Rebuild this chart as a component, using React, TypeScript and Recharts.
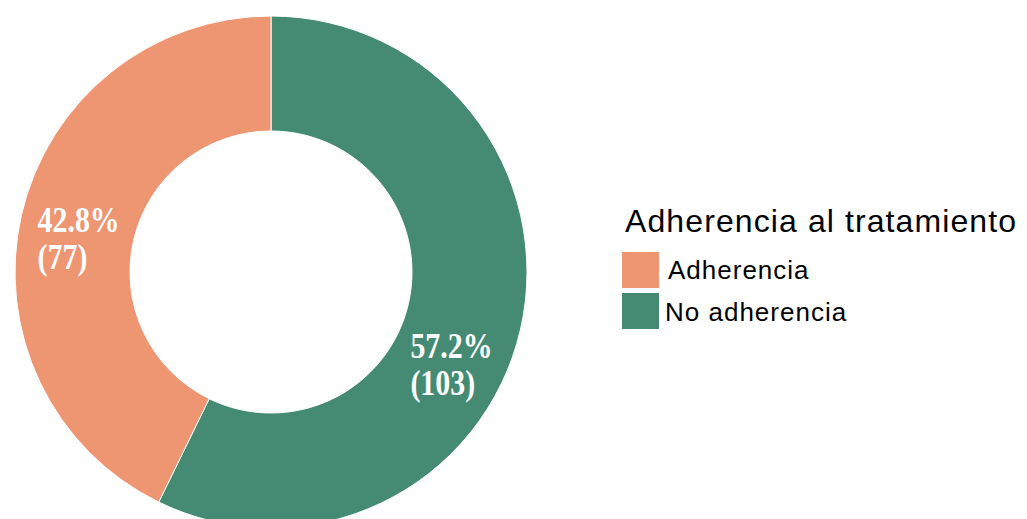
import React from "react";
import { PieChart, Pie, Cell, Legend } from "recharts";

const categories = ["No adherencia", "Adherencia"];
const counts = [103, 77];
const colors = ["#458B74", "#EE9572"];
const legendTitle = "Adherencia al tratamiento";
const legendOrder = ["Adherencia", "No adherencia"];

const total = counts.reduce((a, b) => a + b, 0);
const data = categories.map((name, i) => ({
  name,
  value: counts[i],
  pct: ((counts[i] / total) * 100).toFixed(1) + "%",
}));

const RAD = Math.PI / 180;
// label offsets relative to the sector's mid point (styling)
const labelShift = [
  { dx: -54, dy: 41 },
  { dx: -40, dy: 5 },
];

const renderLabel = (props: any) => {
  const { cx, cy, midAngle, innerRadius, outerRadius, index } = props;
  const r = (innerRadius + outerRadius) / 2;
  const x = cx + r * Math.cos(-midAngle * RAD) + labelShift[index].dx;
  const y = cy + r * Math.sin(-midAngle * RAD) + labelShift[index].dy;
  const d = data[index];
  return (
    <text
      key={"lbl" + index}
      x={0}
      y={0}
      transform={`translate(${x},${y}) scale(0.83,1)`}
      fontFamily="'Liberation Serif', serif"
      fontWeight="bold"
      fontSize={36}
      fill="#ffffff"
      textAnchor="start"
    >
      <tspan x={0} dy={0}>{d.pct}</tspan>
      <tspan x={0} dy={37}>({d.value})</tspan>
    </text>
  );
};

const LegendContent = () => {
  return (
    <svg width={412} height={140} style={{ display: "block" }}>
      <text x={10} y={32} fontFamily="'Liberation Sans', Arial, sans-serif" fontSize={32} letterSpacing={1.1} fill="#000">
        {legendTitle}
      </text>
      {legendOrder.map((name, i) => {
        const ci = categories.indexOf(name);
        return (
          <g key={name}>
            <rect x={7} y={52 + i * 41} width={37} height={36} fill={colors[ci]} />
            <text
              x={i === 0 ? 53 : 50}
              y={79 + i * 42}
              fontFamily="'Liberation Sans', Arial, sans-serif"
              fontSize={26}
              letterSpacing={1}
              fill="#000"
            >
              {name}
            </text>
          </g>
        );
      })}
    </svg>
  );
};

export default function App() {
  return (
    <div style={{ position: "absolute", left: 0, top: 0, background: "#fff" }}>
      <PieChart width={1027} height={519} margin={{ top: 0, right: 0, bottom: 0, left: 0 }}>
        <Pie
          data={data}
          dataKey="value"
          nameKey="name"
          cx={271}
          cy={272}
          innerRadius={141}
          outerRadius={256}
          startAngle={90}
          endAngle={-270}
          stroke="#ffffff"
          strokeWidth={1}
          label={renderLabel}
          labelLine={false}
          isAnimationActive={false}
        >
          {data.map((d, i) => (
            <Cell key={d.name} fill={colors[i]} />
          ))}
        </Pie>
        <Legend
          layout="vertical"
          align="right"
          verticalAlign="middle"
          content={<LegendContent />}
          wrapperStyle={{ left: 615, top: 200, width: 412, height: 140, right: "auto", bottom: "auto" }}
        />
      </PieChart>
    </div>
  );
}
